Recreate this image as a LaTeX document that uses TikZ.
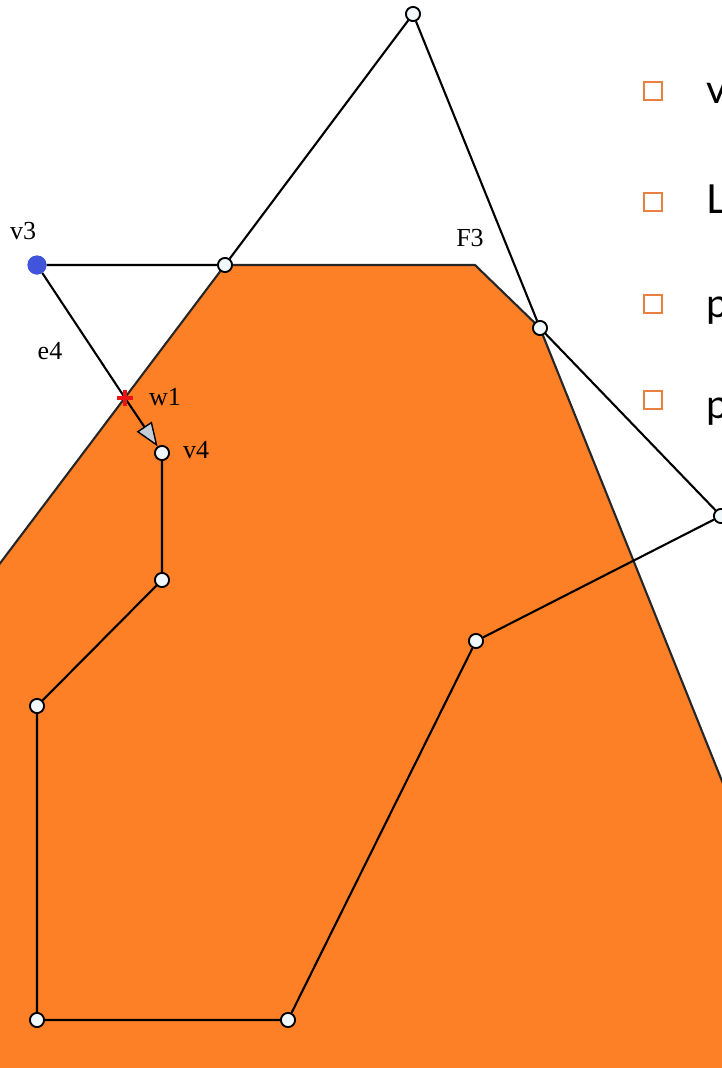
\documentclass[tikz,border=0pt]{standalone}
\usepackage{fontspec}
\setmainfont{Liberation Serif}
\newfontfamily\bulletfont{Lato}
\usetikzlibrary{arrows.meta}
\definecolor{clipfill}{RGB}{253,127,38}
\definecolor{vtxfill}{RGB}{240,248,252}
\definecolor{dotblue}{RGB}{64,84,220}
\definecolor{arrowfill}{RGB}{196,206,216}
\definecolor{boxorange}{RGB}{232,128,64}
\definecolor{plusred}{RGB}{235,20,20}
\begin{document}
\begin{tikzpicture}[x=1pt,y=-1pt,
  vtx/.style={circle,draw=black,fill=vtxfill,line width=1.7pt,minimum size=14pt,inner sep=0pt},
  startdot/.style={circle,fill=dotblue,minimum size=19pt,inner sep=0pt},
  edge/.style={draw=black,line width=2.1pt},
  clipedge/.style={draw=black!85,line width=2.1pt},
  lbl/.style={font=\fontsize{26}{30}\selectfont,inner sep=0pt},
  bulletbox/.style={draw=boxorange,line width=2.4pt,minimum size=18pt,inner sep=0pt},
  bullettext/.style={font=\bulletfont\fontsize{40}{44}\selectfont,inner sep=0pt,anchor=base west}]
\useasboundingbox (0,0) rectangle (722,1068);
\clip (0,0) rectangle (722,1068);
% clip region corners
\coordinate (c1) at (-2,566);
\coordinate (c2) at (225,265);
\coordinate (c3) at (475,265);
\coordinate (c4) at (540,328);
\coordinate (c5) at (726,791);
\fill[clipfill] (c1) -- (c2) -- (c3) -- (c4) -- (c5) -- (726,1072) -- (-2,1072) -- cycle;
% subject polygon vertices
\node[startdot] (v3) at (37,265) {};
\node[vtx] (v4) at (162,453) {};
\node[vtx] (s1) at (162,580) {};
\node[vtx] (s2) at (37,706) {};
\node[vtx] (s3) at (37,1020) {};
\node[vtx] (s4) at (288,1020) {};
\node[vtx] (s5) at (476,641) {};
\node[vtx] (s6) at (721,516) {};
\node[vtx] (s7) at (540,328) {};
\node[vtx] (s8) at (413,14) {};
\node[vtx] (s9) at (225,265) {};
\coordinate (w1) at (125,398);
% clip boundary
\draw[clipedge] (c1) -- (c2) -- (c3) -- (c4) -- (c5);
% subject edges
\draw[edge] (v4) -- (s1) -- (s2) -- (s3) -- (s4) -- (s5) -- (s6) -- (s7) -- (s8) -- (s9) -- (v3);
\draw[edge] (v3) -- (w1);
\draw[edge,-{Triangle[length=24pt,width=18pt,fill=arrowfill,line width=1.4pt]}] (w1) -- (v4);
% redraw vertices on top
\foreach \p in {{162,453},{162,580},{37,706},{37,1020},{288,1020},{476,641},{721,516},{540,328},{413,14},{225,265}}
  \node[vtx] at (\p) {};
\node[startdot] at (37,265) {};
% intersection marker
\draw[plusred,line width=3.5pt] ([xshift=-8pt]w1) -- ([xshift=8pt]w1);
\draw[plusred,line width=3.5pt] ([yshift=-8pt]w1) -- ([yshift=8pt]w1);
% labels
\node[lbl] (lv3) at (23,231) {v3};
\node[lbl] (le4) at (50,351) {e4};
\node[lbl] (lw1) at (165,397) {w1};
\node[lbl] (lv4) at (196,450) {v4};
\node[lbl] (lf3) at (470,238) {F3};
% bullet list
\node[bulletbox] (b1) at (653,91) {};
\node[bulletbox] (b2) at (653,202) {};
\node[bulletbox] (b3) at (653,304) {};
\node[bulletbox] (b4) at (653,400) {};
\node[bullettext] (t1) at (706,103) {v};
\node[bullettext] (t2) at (706,213) {L};
\node[bullettext] (t3) at (706,317) {p};
\node[bullettext] (t4) at (706,418) {p};
\end{tikzpicture}
\end{document}
